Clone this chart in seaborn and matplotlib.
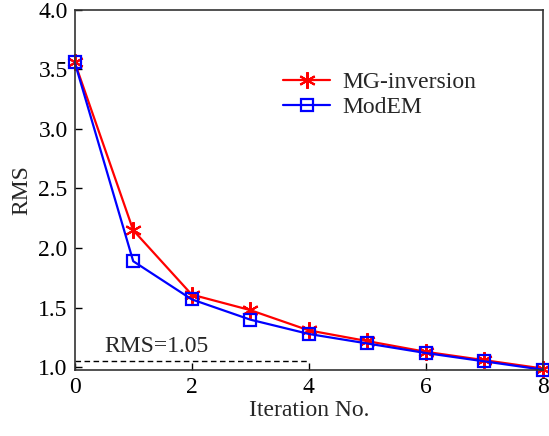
import matplotlib
matplotlib.use("Agg")
import matplotlib.pyplot as plt
import seaborn as sns

iterations = [0, 1, 2, 3, 4, 5, 6, 7, 8]
mg_inversion = [3.56, 2.15, 1.61, 1.48, 1.31, 1.22, 1.13, 1.06, 0.99]
modem = [3.56, 1.89, 1.57, 1.40, 1.28, 1.20, 1.12, 1.05, 0.98]
target_rms = 1.05

sns.set_theme(style="ticks")
plt.rcParams["font.family"] = ["Liberation Serif", "DejaVu Serif"]

fig = plt.figure(figsize=(5.49, 4.36), dpi=100)
ax = fig.add_axes([0.136, 0.152, 0.853, 0.826])

sns.lineplot(x=iterations, y=mg_inversion, color="#ff0000", marker=(6, 2, 0),
             markersize=12, markeredgecolor="#ff0000", markeredgewidth=1.5,
             linewidth=1.6, label="MG-inversion", ax=ax, clip_on=False)
sns.lineplot(x=iterations, y=modem, color="#0000ff", marker="s",
             markersize=8, markerfacecolor="none", markeredgecolor="#0000ff",
             markeredgewidth=1.6, linewidth=1.6,
             label="ModEM", ax=ax, clip_on=False)

ax.plot([0, 4], [target_rms, target_rms], ls=(0, (4, 2.5)), color="black", lw=1)
ax.text(1.4, 1.13, "RMS=1.05", fontsize=17, ha="center", va="baseline")

ax.set_xlim(0, 8)
ax.set_ylim(0.98, 4.0)
ax.set_xticks([0, 2, 4, 6, 8])
ax.set_yticks([1.0, 1.5, 2.0, 2.5, 3.0, 3.5, 4.0])
ax.set_yticklabels(["1.0", "1.5", "2.0", "2.5", "3.0", "3.5", "4.0"])
ax.tick_params(direction="in", labelsize=17, length=5, width=1, color="black",
               labelcolor="black", pad=5)
ax.set_xlabel("Iteration No.", fontsize=17, labelpad=2)
ax.set_ylabel("RMS", fontsize=17, labelpad=4)
for s in ax.spines.values():
    s.set_color("#333333")
    s.set_linewidth(1.2)

ax.legend(loc="upper left", bbox_to_anchor=(0.425, 0.855),
          frameon=False, fontsize=17, handlelength=2.0, handletextpad=0.5,
          labelspacing=0.15, borderaxespad=0)

fig.savefig("out.png", dpi=100)
